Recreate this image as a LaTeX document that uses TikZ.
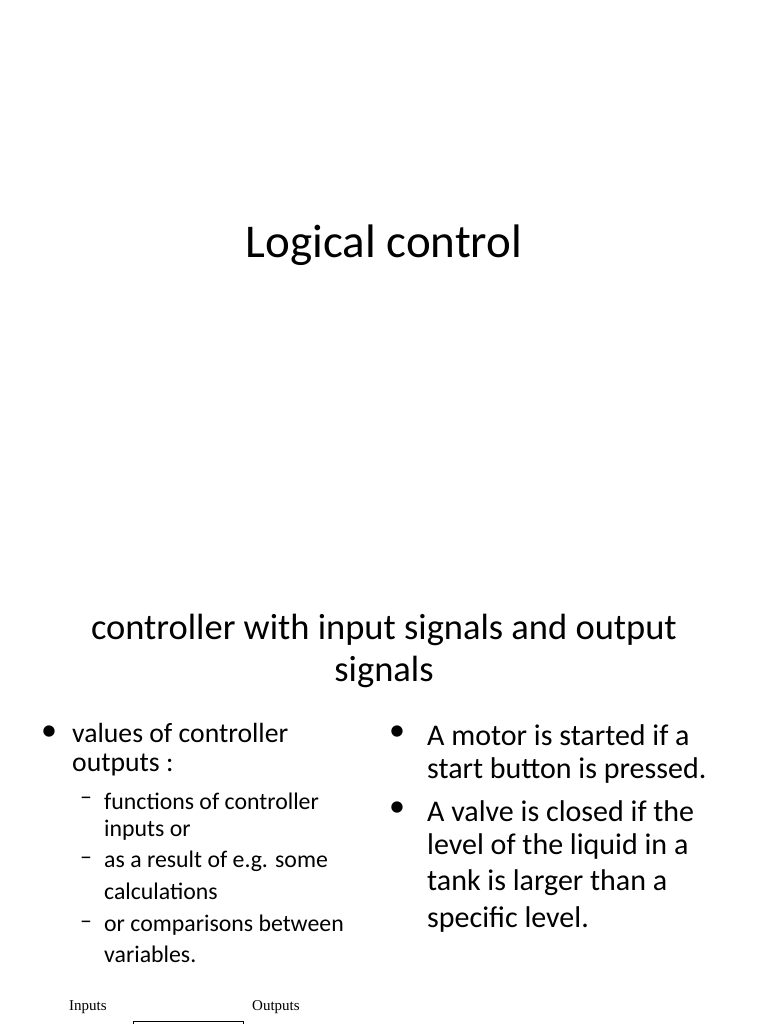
\documentclass[tikz,border=0pt]{standalone}
\usepackage{fontspec}
\setmainfont{Carlito}
\newfontfamily\serf{Liberation Serif}
\begin{document}
\begin{tikzpicture}[x=1pt,y=-1pt,
  t/.style={anchor=west,inner sep=0pt},
  bul/.style={inner sep=0pt}]
\useasboundingbox (0,0) rectangle (768,1024);
\node[inner sep=0pt,font=\fontsize{47}{56}\selectfont] (title) at (384,245) {Logical control};
\node[inner sep=0pt,font=\fontsize{36.5}{44}\selectfont] (s1) at (384,630) {controller with input signals and output};
\node[inner sep=0pt,font=\fontsize{36.5}{44}\selectfont] (s2) at (384,672) {signals};
\begin{scope}[font=\fontsize{27.7}{33}\selectfont]
\node[bul,font=\fontsize{32}{38}\selectfont] (b1) at (49,733) {•};
\node[t] (l1) at (72,733) {values of controller};
\node[t] (l2) at (72,765) {outputs :};
\end{scope}
\begin{scope}[font=\fontsize{30}{36}\selectfont]
\node[bul,font=\fontsize{32}{38}\selectfont] (b2) at (397,733) {•};
\node[t] (r1) at (427,735) {A motor is started if a};
\node[t] (r2) at (427,770) {start button is pressed.};
\node[bul,font=\fontsize{32}{38}\selectfont] (b3) at (397,809) {•};
\node[t] (r3) at (427,811) {A valve is closed if the};
\node[t] (r4) at (427,846) {level of the liquid in a};
\node[t] (r5) at (427,883) {tank is larger than a};
\node[t] (r6) at (427,919) {specific level.};
\end{scope}
\begin{scope}[font=\fontsize{23.8}{28}\selectfont]
\node[t] (d1) at (80,801) {–};
\node[t] (m1) at (104,801) {functions of controller};
\node[t] (m2) at (104,830) {inputs or};
\node[t] (d2) at (80,861) {–};
\node[t] (m3) at (104,861) {as a result of e.g. some};
\node[t] (m4) at (104,891) {calculations};
\node[t] (d3) at (80,925) {–};
\node[t] (m5) at (104,925) {or comparisons between};
\node[t] (m6) at (104,954) {variables.};
\end{scope}
\node[t,font=\serf\fontsize{15}{18}\selectfont] (in) at (69,1007) {Inputs};
\node[t,font=\serf\fontsize{15}{18}\selectfont] (out) at (252,1007) {Outputs};
\coordinate (bl) at (133,1025);
\coordinate (br) at (243,1025);
\draw[line width=0.8pt] (bl) -- (133,1021) -- (243,1021) -- (br);
\end{tikzpicture}
\end{document}
